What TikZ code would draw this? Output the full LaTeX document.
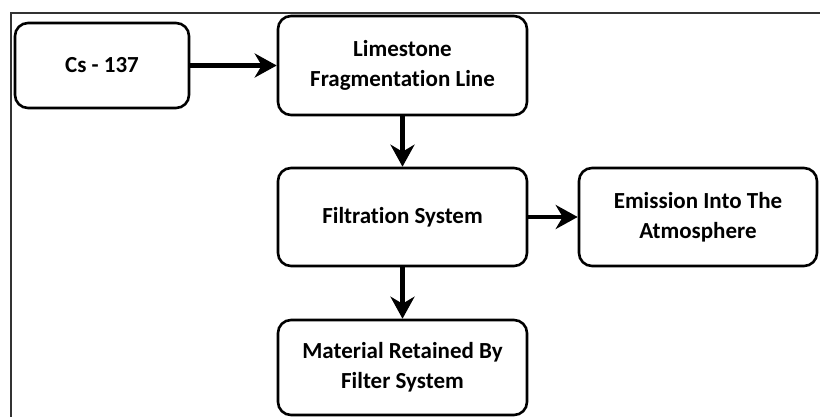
\documentclass[tikz,border=0pt]{standalone}
\usepackage{fontspec}
\setmainfont{Carlito}[Ligatures=NoCommon]
\usetikzlibrary{arrows.meta,positioning}
\tikzset{
  box/.style={draw=black, line width=2.6pt, rounded corners=13pt, fill=white,
    font=\bfseries\fontsize{23}{30}\selectfont, align=center, inner sep=0pt},
  conn/.style={line width=4.2pt, -{Stealth[length=22pt,width=24pt,inset=7pt]}},
}
\begin{document}
\begin{tikzpicture}[x=1pt,y=-1pt]
\useasboundingbox (0,0) rectangle (820,417);
\draw[line width=1.6pt, color=black!80] (11,420) -- (11,13) -- (823,13);
\node[box, minimum width=174pt, minimum height=85pt] (cs) at (102,65.5) {Cs - 137};
\node[box, minimum width=249pt, minimum height=99pt] (lime) at (402.5,65.5) {Limestone\\Fragmentation Line};
\node[box, minimum width=249pt, minimum height=98pt] (filt) at (402.5,217) {Filtration System};
\node[box, minimum width=238pt, minimum height=98pt] (emis) at (698,217) {Emission Into The\\Atmosphere};
\node[box, minimum width=249pt, minimum height=95pt] (mat) at (402.5,367.5) {Material Retained By\\Filter System};
\draw[conn] (cs) -- (lime);
\draw[conn] (lime) -- (filt);
\draw[conn] (filt) -- (emis);
\draw[conn] (filt) -- (mat);
\end{tikzpicture}
\end{document}
